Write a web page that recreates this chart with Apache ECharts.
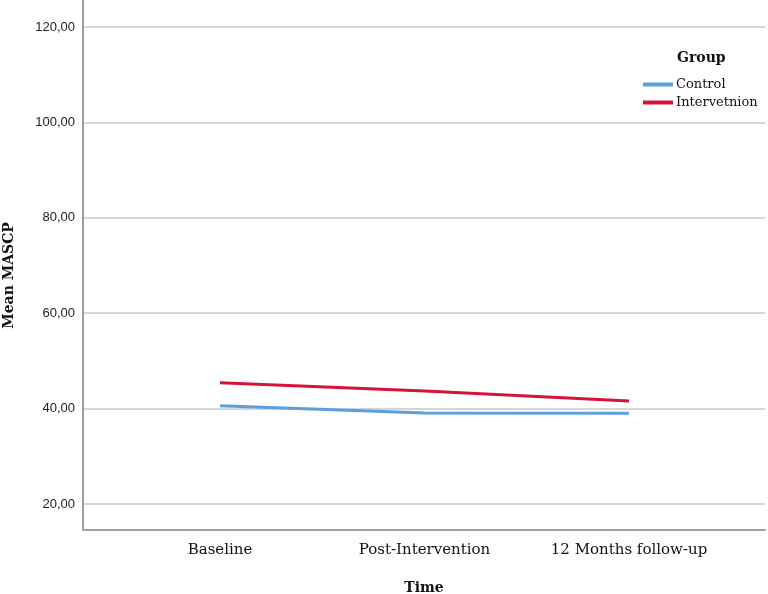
<!DOCTYPE html>
<html>
<head>
<meta charset="utf-8">
<script src="https://cdn.jsdelivr.net/npm/echarts@6/dist/echarts.min.js"></script>
<style>html,body{margin:0;padding:0;background:#fff}#c{width:768px;height:594px}</style>
</head>
<body>
<div id="c"></div>
<script>
const categories = ['Baseline', 'Post-Intervention', '12 Months follow-up'];
const controlValues = [40.6, 39.1, 39.0];
const interventionValues = [45.4, 43.7, 41.6];
const seriesNames = ['Control', 'Intervetnion'];
const yTicks = [20, 40, 60, 80, 100, 120];

const chart = echarts.init(document.getElementById('c'), null, {renderer: 'canvas'});
const serif = '"DejaVu Serif", "Liberation Serif", serif';
chart.setOption({
  animation: false,
  backgroundColor: '#ffffff',
  title: {
    text: 'Group',
    left: 677, top: 51, padding: 0,
    textStyle: {fontFamily: serif, fontWeight: 'bold', fontSize: 14, color: '#111'}
  },
  legend: {
    orient: 'vertical',
    left: 643, top: 78, padding: 0,
    itemWidth: 30, itemHeight: 4, itemGap: 5,
    icon: 'rect',
    textStyle: {fontFamily: serif, fontSize: 13, color: '#111', padding: [0, 0, 0, -2]},
    data: seriesNames
  },
  grid: {left: 83, right: 3, top: 0, bottom: 64, containLabel: false, outerBoundsMode: 'none'},
  xAxis: {
    type: 'value',
    min: -0.67, max: 2.665,
    name: 'Time',
    nameLocation: 'middle',
    nameGap: 51,
    nameTextStyle: {fontFamily: serif, fontWeight: 'bold', fontSize: 14, color: '#111'},
    axisLine: {show: true, onZero: false, lineStyle: {color: '#a0a0a0', width: 2}},
    axisTick: {show: false, customValues: [0, 1, 2]},
    splitLine: {show: false},
    axisLabel: {
      customValues: [0, 1, 2],
      margin: 13,
      fontFamily: serif, fontSize: 15, color: '#111',
      formatter: v => categories[Math.round(v)] || ''
    }
  },
  yAxis: {
    type: 'value',
    min: 14.55, max: 125.66,
    name: 'Mean MASCP',
    nameLocation: 'middle',
    nameGap: 67,
    nameRotate: 90,
    nameTextStyle: {fontFamily: serif, fontWeight: 'bold', fontSize: 14, color: '#111', padding: [0, 21, 0, 0]},
    axisLine: {show: true, onZero: false, lineStyle: {color: '#a0a0a0', width: 2}},
    axisTick: {show: false, customValues: yTicks},
    splitLine: {show: true, lineStyle: {color: '#c8c8c8', width: 1.5}},
    axisLabel: {
      customValues: yTicks,
      margin: 8,
      fontFamily: '"Liberation Sans", Arial, sans-serif', fontSize: 13, color: '#222',
      formatter: v => v.toFixed(2).replace('.', ',')
    }
  },
  series: [
    {
      name: seriesNames[0], type: 'line', symbol: 'none',
      lineStyle: {width: 3, color: '#5b9ee1'}, itemStyle: {color: '#5b9ee1'},
      data: categories.map((c, i) => [i, controlValues[i]])
    },
    {
      name: seriesNames[1], type: 'line', symbol: 'none',
      lineStyle: {width: 3, color: '#d2143c'}, itemStyle: {color: '#d2143c'},
      data: categories.map((c, i) => [i, interventionValues[i]])
    }
  ]
});
</script>
</body>
</html>
